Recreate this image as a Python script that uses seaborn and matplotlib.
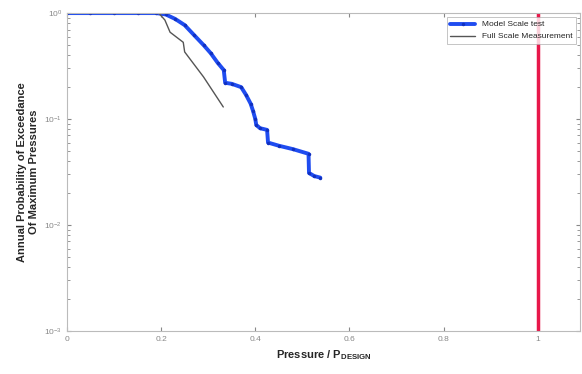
import pandas as pd
import seaborn as sns
import matplotlib.pyplot as plt
from matplotlib.ticker import LogLocator, NullFormatter

# values
model_x = [0.0, 0.05, 0.10, 0.15, 0.19, 0.21, 0.23, 0.25, 0.27, 0.29, 0.305, 0.32, 0.333,
           0.336, 0.35, 0.37, 0.38, 0.39, 0.395, 0.40, 0.402, 0.41, 0.425, 0.427,
           0.45, 0.48, 0.513, 0.514, 0.525, 0.538]
model_y = [1.0, 1.0, 1.0, 1.0, 1.0, 0.97, 0.88, 0.77, 0.62, 0.50, 0.42, 0.34, 0.29,
           0.22, 0.215, 0.20, 0.17, 0.14, 0.12, 0.10, 0.088, 0.082, 0.079, 0.060,
           0.056, 0.052, 0.047, 0.031, 0.029, 0.028]

full_x = [0.0, 0.10, 0.195, 0.208, 0.219, 0.247, 0.250, 0.290, 0.332]
full_y = [1.0, 1.0, 1.0, 0.86, 0.66, 0.53, 0.43, 0.25, 0.13]

design_x = 1.0

model = pd.DataFrame({'x': model_x, 'y': model_y})
full = pd.DataFrame({'x': full_x, 'y': full_y})

sns.set_style('white')
plt.rcParams['font.family'] = ['Liberation Sans', 'DejaVu Sans']
fig = plt.figure(figsize=(5.82, 3.74), dpi=100)
ax = fig.add_axes([0.115, 0.115, 0.882, 0.85])

sns.lineplot(data=model, x='x', y='y', ax=ax, sort=False, estimator=None,
             color='#1f4cf0', linewidth=2.8, marker='.', markersize=5,
             markerfacecolor='#1030c0', markeredgewidth=0, label='Model Scale test')
sns.lineplot(data=full, x='x', y='y', ax=ax, sort=False, estimator=None,
             color='#555555', linewidth=1, label='Full Scale Measurement')
ax.axvline(design_x, color='#e8174a', linewidth=2.5)

ax.set_yscale('log')
ax.set_xlim(0, 1.09)
ax.set_ylim(1e-3, 1)
ax.yaxis.set_minor_locator(LogLocator(base=10, subs=range(2, 10)))
ax.yaxis.set_minor_formatter(NullFormatter())
ax.set_xticks([0, 0.2, 0.4, 0.6, 0.8, 1])
ax.set_xticklabels(['0', '0.2', '0.4', '0.6', '0.8', '1'])
ax.tick_params(axis='both', which='both', labelsize=6, colors='#888888',
               direction='in', length=3, left=True, bottom=True, top=True, right=True)
ax.tick_params(axis='y', which='minor', length=2)
for s in ax.spines.values():
    s.set_color('#bbbbbb')
    s.set_linewidth(0.8)

ax.set_xlabel('Pressure / P$_{\\mathregular{DESIGN}}$', fontsize=8, fontweight='bold')
ax.set_ylabel('Annual Probability of Exceedance\nOf Maximum Pressures',
              fontsize=8, fontweight='bold')

leg = ax.legend(loc='upper right', fontsize=6, frameon=True, fancybox=False,
                borderpad=0.4, handlelength=3)
leg.get_frame().set_edgecolor('#aaaaaa')
leg.get_frame().set_linewidth(0.6)

fig.savefig('out.png', dpi=100)
